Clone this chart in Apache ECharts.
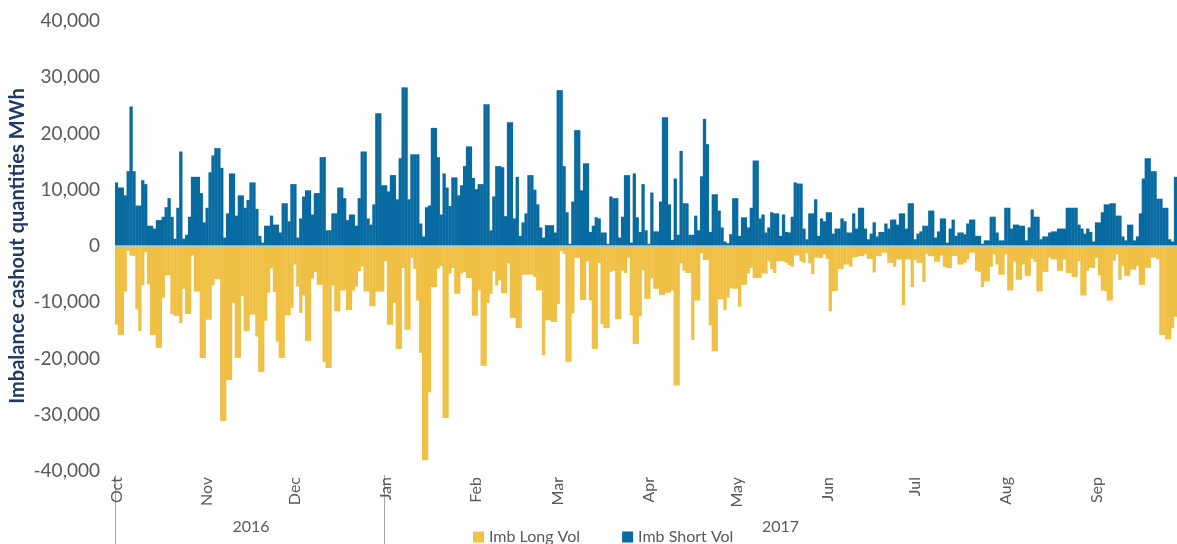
<!DOCTYPE html>
<html>
<head>
<meta charset="utf-8">
<title>Imbalance cashout quantities</title>
<script src="https://cdn.jsdelivr.net/npm/echarts@6/dist/echarts.min.js"></script>
<style>
	html, body {
		margin: 0;
		padding: 0;
		background: #ffffff;
	}
	#imbchart {
		width: 1177px;
		height: 544px;
	}
</style>
</head>
<body>
<div id="imbchart"></div>
<script>
	// one value per day, starting 1 Oct 2016 (MWh)
	var startDay = [2016, 9, 1];
	var shortVol = [
		11300,10400,10400,9000,13300,24800,13300,7200,7200,11700,
		11000,3600,3600,3100,4600,4600,5200,6900,8500,5200,
		1300,6800,16800,1300,2000,5200,12300,12300,12300,9400,
		4200,6800,13100,16100,17400,17400,13900,1500,5800,12900,
		12900,5400,9000,9000,6800,8200,11300,11300,6600,1800,
		600,3600,3600,5400,3800,3800,2400,7600,7600,4400,
		11000,11000,1500,4900,8800,9900,9900,5600,9400,9400,
		15800,15800,2800,2800,5800,5800,10400,10400,8500,4600,
		5600,5600,3600,8500,16800,16800,4900,3800,7400,23600,
		23600,10800,10800,9700,12600,12600,8300,15600,28200,28200,
		8300,16300,16300,16300,4000,1700,6900,7200,21000,21000,
		15800,5600,12900,10400,7100,12200,12200,9000,10800,14200,
		17700,17700,12100,10100,11000,11000,25200,25200,2800,8800,
		14200,14200,14000,5300,22000,22000,4900,12300,1800,4200,
		5800,12600,12600,10000,7400,3300,1500,3700,3700,3700,
		2400,27700,27700,14200,6000,400,7900,20600,20600,9900,
		14700,14700,2500,3600,5100,4900,2400,2400,400,8800,
		8500,8500,1500,5200,12600,12600,600,12900,5100,2500,
		11000,2800,400,9500,2600,2600,7900,22900,22900,7400,
		1100,12000,2000,16900,7600,7600,2000,2000,5400,2800,
		12400,22600,18100,2500,9200,9200,6300,3300,800,500,
		2100,8500,8500,1800,5100,5100,3300,6800,15200,15200,
		4900,5600,2400,3300,6000,5800,5800,1800,5600,2500,
		2400,5200,11300,11100,11100,3100,1200,5800,5800,8300,
		1800,4900,4400,6000,6000,2200,3100,3100,4900,4400,
		2400,2400,5800,3100,6800,6800,3100,1200,2200,4200,
		1700,2500,2500,4000,3100,4700,4700,3800,5800,5800,
		3100,7600,7600,1200,2200,2600,3600,3600,6300,6300,
		1500,2600,4900,4900,600,3100,4700,1800,2400,2400,
		2100,4000,4700,4700,1800,1800,400,1000,1000,5200,
		5200,2400,1000,1000,6800,6800,3100,3800,3800,3600,
		3600,1000,3300,6500,5200,5200,1200,1700,1700,2400,
		2600,2600,3100,3100,3100,6800,6800,6800,6800,3800,
		3100,2200,3100,2500,800,4200,4200,6000,7400,7400,
		7600,7600,5400,5400,1700,1000,3800,3800,1000,1700,
		5800,12000,15600,15600,13300,13300,8400,8400,6800,6800,
		1200,800,12300
	];
	var longVol = [
		-14000,-15800,-15800,-8100,-900,-1700,-1800,-11300,-15100,-7000,
		-1100,-6800,-15800,-15800,-18100,-18100,-9200,-5200,-5200,-12100,
		-12400,-12400,-13700,-7600,-12100,-12100,-1700,-8100,-8100,-19900,
		-19900,-13100,-13100,-7000,-5900,-5900,-31100,-31100,-23800,-23800,
		-10100,-19900,-19900,-8900,-15100,-15100,-12200,-12200,-16100,-22400,
		-22400,-13300,-8300,-4000,-8200,-17000,-19900,-19900,-12300,-12300,
		-11000,-3300,-7200,-11900,-8800,-16900,-16900,-5800,-4600,-6900,
		-6900,-20600,-21700,-21700,-7000,-11600,-11600,-7900,-7900,-11400,
		-11400,-7900,-7200,-4500,-3600,-8100,-8100,-10700,-10700,-8100,
		-8100,-8100,-2700,-14000,-14000,-10100,-18300,-18300,-3900,-14900,
		-14900,-2100,-4100,-9700,-19000,-38100,-38100,-26000,-7300,-7300,
		-4000,-3600,-30600,-30600,-4900,-3900,-8500,-8500,-4900,-4600,
		-5700,-5700,-12400,-12400,-7900,-21300,-21300,-10100,-8500,-4500,
		-7000,-6100,-8400,-8400,-3100,-12800,-12800,-14600,-14600,-5100,
		-5100,-5100,-5100,-5500,-7900,-7900,-19400,-13200,-13200,-13500,
		-13500,-10300,-900,-1400,-20600,-20600,-12000,-2100,-2100,-9600,
		-9600,-2700,-9700,-18300,-18300,-3000,-13900,-14600,-14600,-4600,
		-4400,-13000,-13000,-4400,-4800,-2100,-12300,-17400,-17400,-12500,
		-4300,-9400,-9400,-5700,-7600,-7600,-8700,-8700,-8300,-8300,
		-7900,-24800,-24800,-3100,-4400,-4800,-4800,-16700,-9700,-9700,
		-1300,-2500,-2500,-14100,-18700,-18700,-9500,-9500,-11400,-9200,
		-7500,-7600,-7600,-10800,-6900,-6900,-4900,-3900,-5700,-5700,
		-5700,-4900,-4900,-2700,-4100,-4800,-2700,-2700,-2700,-3000,
		-3400,-3700,-1700,-1700,-2700,-3000,-1300,-3100,-5000,-2100,
		-2100,-2100,-1500,-2300,-11600,-8000,-8000,-4100,-4100,-3300,
		-3300,-3700,-2000,-2000,-1800,-1800,-1500,-2300,-2300,-4700,
		-1800,-1800,-1200,-1200,-3000,-3000,-3700,-2400,-2400,-10500,
		-2400,-2400,-7300,-2500,-3000,-3000,-6400,-1400,-1800,-1800,
		-2800,-2800,-1700,-3700,-3900,-3900,-1800,-1800,-3300,-3300,
		-3000,-2400,-1200,-1200,-4400,-4600,-7300,-6300,-6300,-3700,
		-1500,-3300,-5100,-5100,-1500,-7900,-7900,-2800,-6000,-6000,
		-3300,-5300,-5300,-2300,-2800,-8100,-8100,-4600,-4600,-2100,
		-2400,-2400,-4400,-4400,-2400,-4800,-4800,-5500,-5500,-2700,
		-8800,-8800,-4400,-3900,-3900,-2100,-5200,-7900,-8000,-9700,
		-9700,-2600,-1500,-6000,-3600,-5300,-5300,-4200,-4200,-3600,
		-6900,-6900,-3900,-3900,-2100,-2100,-2400,-15800,-15800,-16600,
		-16600,-14600,-12600
	];
	var seriesNames = ['Imb Long Vol', 'Imb Short Vol'];
	var monthNames = ['Jan', 'Feb', 'Mar', 'Apr', 'May', 'Jun', 'Jul', 'Aug', 'Sep', 'Oct', 'Nov', 'Dec'];
	var yTicks = { min: -40000, max: 40000, step: 10000 };

	// day categories as yyyy-mm-dd
	var days = [];
	var d = new Date(Date.UTC(startDay[0], startDay[1], startDay[2]));
	for (var i = 0; i < shortVol.length; i++) {
		days.push(d.toISOString().slice(0, 10));
		d.setUTCDate(d.getUTCDate() + 1);
	}

	// where each year starts and where its label sits (middle of its days)
	var yearStart = [];
	var yearMid = {};
	var byYear = {};
	days.forEach(function(v, idx) {
		var y = v.slice(0, 4);
		if (!byYear[y]) {
			byYear[y] = [];
			yearStart.push(idx);
		}
		byYear[y].push(idx);
	});
	Object.keys(byYear).forEach(function(y) {
		var list = byYear[y];
		yearMid[list[Math.floor(list.length / 2)]] = y;
	});

	var grey = '#595959';
	var font = 'Lato, "Liberation Sans", sans-serif';

	var chart = echarts.init(document.getElementById('imbchart'));
	chart.setOption({
		animation: false,
		color: ['#F0C045', '#076AA0'],
		grid: {
			left: 115,
			right: 0,
			top: 21,
			bottom: 73,
			outerBoundsMode: 'none'
		},
		legend: {
			data: seriesNames,
			left: 468,
			top: 524,
			itemWidth: 11,
			itemHeight: 11,
			itemGap: 42,
			icon: 'rect',
			textStyle: {
				color: grey,
				fontSize: 16,
				fontFamily: font
			}
		},
		xAxis: [{
			type: 'category',
			data: days,
			position: 'bottom',
			boundaryGap: true,
			axisLine: { show: false, onZero: false },
			axisTick: { show: false },
			splitLine: { show: false },
			axisLabel: {
				rotate: 90,
				margin: 6,
				color: grey,
				fontSize: 16,
				fontFamily: font,
				interval: function(index, value) {
					return value.slice(8) === '01';
				},
				formatter: function(value) {
					return monthNames[parseInt(value.slice(5, 7), 10) - 1];
				}
			}
		}, {
			// second level: years
			type: 'category',
			data: days,
			position: 'bottom',
			offset: 4,
			boundaryGap: true,
			axisLine: { show: false, onZero: false },
			axisTick: {
				show: true,
				length: 70,
				interval: function(index) {
					return yearStart.indexOf(index) >= 0;
				},
				lineStyle: { color: '#A6A6A6', width: 1 }
			},
			axisLabel: {
				margin: 44,
				color: grey,
				fontSize: 16,
				fontFamily: font,
				interval: function(index) {
					return yearMid[index] !== undefined;
				},
				formatter: function(value) {
					return value.slice(0, 4);
				}
			}
		}],
		yAxis: {
			type: 'value',
			min: yTicks.min,
			max: yTicks.max,
			interval: yTicks.step,
			name: 'Imbalance cashout quantities MWh',
			nameLocation: 'middle',
			nameRotate: 90,
			nameGap: 87,
			nameMoveOverlap: false,
			nameTextStyle: {
				color: '#1F3864',
				fontSize: 20,
				fontWeight: 'bold',
				fontFamily: font
			},
			axisLine: { show: false },
			axisTick: { show: false },
			splitLine: { show: false },
			axisLabel: {
				margin: 15,
				color: grey,
				fontSize: 19,
				fontFamily: font,
				formatter: function(v) {
					return v.toLocaleString('en-US');
				}
			}
		},
		series: [{
			name: seriesNames[0],
			type: 'bar',
			xAxisIndex: 0,
			barWidth: '112%',
			barGap: '-100%',
			data: longVol
		}, {
			name: seriesNames[1],
			type: 'bar',
			xAxisIndex: 0,
			barWidth: '112%',
			barGap: '-100%',
			data: shortVol,
			markLine: {
				silent: true,
				symbol: 'none',
				label: { show: false },
				lineStyle: { color: '#A9CBE3', type: 'solid', width: 1.5 },
				data: [{ yAxis: 0 }]
			}
		}]
	});
</script>
</body>
</html>
